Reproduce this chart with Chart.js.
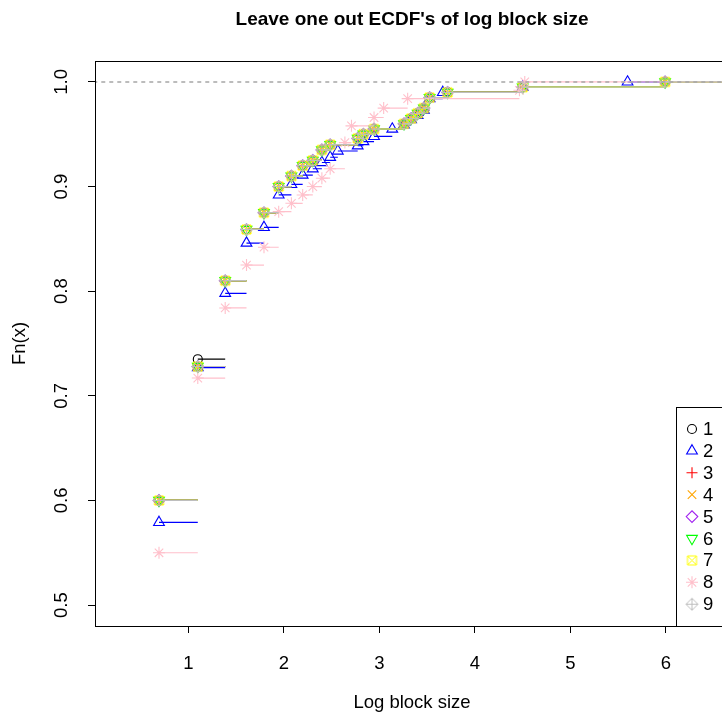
<!DOCTYPE html>
<html><head><meta charset="utf-8">
<script src="https://cdn.jsdelivr.net/npm/chart.js@4.4.0/dist/chart.umd.min.js"></script>
<style>
html,body{margin:0;padding:0;background:#fff;overflow:hidden;width:722px;height:715px}
#wrap{position:relative;width:740px;height:715px}
</style>
</head><body><div id="wrap"><canvas id="c" width="740" height="715"></canvas></div>
<script>
// ---------- data ----------
const seriesLabels = ['1','2','3','4','5','6','7','8','9'];
const seriesColors = ['#000000','#0000FF','#FF0000','#FFA500','#A020F0','#00FF00','#FFFF00','#FFC0CB','#BEBEBE'];
const xTickValues = [1, 2, 3, 4, 5, 6];
const yTickValues = [0.5, 0.6, 0.7, 0.8, 0.9, 1.0];

// knots (log block size) and Fn(x) of each leave-one-out ECDF
const logSizeMain = [0.693, 1.099, 1.386, 1.609, 1.792, 1.946, 2.079, 2.197, 2.303, 2.398, 2.485, 2.773, 2.833, 2.944, 3.258, 3.332, 3.401, 3.466, 3.526, 3.714, 4.500, 5.991];
const fn1 = [0.600, 0.735, 0.810, 0.859, 0.875, 0.900, 0.910, 0.920, 0.925, 0.935, 0.940, 0.946, 0.950, 0.955, 0.960, 0.965, 0.970, 0.975, 0.985, 0.990, 0.995, 1.000];
const fnMain = [0.600, 0.728, 0.810, 0.859, 0.875, 0.900, 0.910, 0.920, 0.925, 0.935, 0.940, 0.946, 0.950, 0.955, 0.960, 0.965, 0.970, 0.975, 0.985, 0.990, 0.995, 1.000];
const logSize2 = [0.693, 1.099, 1.386, 1.609, 1.792, 1.946, 2.079, 2.197, 2.303, 2.398, 2.485, 2.565, 2.773, 2.833, 2.944, 3.135, 3.258, 3.332, 3.401, 3.466, 3.526, 3.664, 4.500, 5.598];
const fn2 = [0.579, 0.727, 0.798, 0.846, 0.861, 0.892, 0.902, 0.911, 0.917, 0.923, 0.928, 0.934, 0.939, 0.943, 0.948, 0.955, 0.959, 0.964, 0.968, 0.973, 0.984, 0.990, 0.995, 1.000];
const logSize8 = [0.693, 1.099, 1.386, 1.609, 1.792, 1.946, 2.079, 2.197, 2.303, 2.398, 2.485, 2.639, 2.708, 2.944, 3.045, 3.296, 4.466, 4.522];
const fn8 = [0.550, 0.717, 0.784, 0.825, 0.842, 0.876, 0.884, 0.892, 0.900, 0.908, 0.917, 0.942, 0.958, 0.966, 0.975, 0.984, 0.992, 1.000];

const seriesX = [logSizeMain, logSize2, logSizeMain, logSizeMain, logSizeMain, logSizeMain, logSizeMain, logSize8, logSizeMain];
const seriesY = [fn1, fn2, fnMain, fnMain, fnMain, fnMain, fnMain, fn8, fnMain];

// ---------- symbols (R pch 1..9) ----------
function imgSymbol(kind, color){
  const c = document.createElement('canvas'); c.width = 15; c.height = 15;
  const g = c.getContext('2d'); g.strokeStyle = color; g.lineWidth = 1;
  g.beginPath();
  if (kind === 'squareX') {
    g.rect(3, 3, 9, 9);
    g.moveTo(3, 3); g.lineTo(12, 12); g.moveTo(12, 3); g.lineTo(3, 12);
  } else {
    g.moveTo(7.5, 1.5); g.lineTo(13.5, 7.5); g.lineTo(7.5, 13.5); g.lineTo(1.5, 7.5); g.closePath();
    g.moveTo(7.5, 1.5); g.lineTo(7.5, 13.5); g.moveTo(1.5, 7.5); g.lineTo(13.5, 7.5);
  }
  g.stroke();
  return c;
}
const symbols = [
  {style:'circle', radius:4.5, rotation:0},
  {style:'triangle', radius:6.2, rotation:0},
  {style:'cross', radius:5.5, rotation:0},
  {style:'crossRot', radius:6, rotation:0},
  {style:'rectRot', radius:5.8, rotation:0},
  {style:'triangle', radius:6.2, rotation:180},
  {style:imgSymbol('squareX', seriesColors[6]), radius:6, rotation:0},
  {style:'star', radius:6, rotation:0},
  {style:imgSymbol('diamondPlus', seriesColors[8]), radius:6, rotation:0}
];

// ---------- datasets ----------
const XRIGHT = 8;
const datasets = [];
for (let k = 0; k < 9; k++) {
  const xs = seriesX[k], ys = seriesY[k];
  const seg = [];
  for (let i = 0; i < xs.length; i++) {
    const xe = i + 1 < xs.length ? xs[i + 1] : XRIGHT;
    seg.push({x: xs[i], y: ys[i]}, {x: xe, y: ys[i]}, {x: xe, y: null});
  }
  datasets.push({
    label: seriesLabels[k] + ' steps', data: seg, borderColor: seriesColors[k], borderWidth: 1.2,
    pointRadius: 0, spanGaps: false, fill: false, order: 2 * (9 - k) + 1
  });
  datasets.push({
    label: seriesLabels[k], data: xs.map((x, i) => ({x: x, y: ys[i]})), showLine: false,
    borderColor: seriesColors[k], backgroundColor: 'rgba(0,0,0,0)', pointBorderWidth: 1.1,
    pointStyle: symbols[k].style, pointRadius: symbols[k].radius, pointRotation: symbols[k].rotation,
    order: 2 * (9 - k)
  });
}
datasets.push({
  label: 'one', data: [{x: -1, y: 1}, {x: XRIGHT, y: 1}], borderColor: '#A6A6A6', borderWidth: 1.5,
  borderDash: [4, 4], pointRadius: 0, order: -1
});

const FONT = '"Liberation Sans", Arial, sans-serif';
const FS = 18.5;

const framePlugin = {
  id: 'frame',
  afterDraw(chart) {
    const ctx = chart.ctx, a = chart.chartArea;
    ctx.save();
    ctx.strokeStyle = '#000'; ctx.lineWidth = 1;
    ctx.strokeRect(Math.round(a.left) + 0.5, Math.round(a.top) + 0.5, Math.round(a.right - a.left), Math.round(a.bottom - a.top));
    // title
    ctx.fillStyle = '#000'; ctx.font = 'bold 19px ' + FONT; ctx.textAlign = 'center'; ctx.textBaseline = 'middle';
    ctx.fillText("Leave one out ECDF's of log block size", (a.left + a.right) / 2, 20);
    // legend
    const lx = 676, ly = 407;
    ctx.fillStyle = '#fff';
    ctx.fillRect(lx, ly, a.right - lx, a.bottom - ly);
    ctx.strokeRect(lx + 0.5, ly + 0.5, a.right - lx, Math.round(a.bottom) - ly);
    ctx.font = FS + 'px ' + FONT; ctx.textAlign = 'left';
    for (let k = 0; k < 9; k++) {
      const y = 429 + k * 21.9;
      ctx.strokeStyle = seriesColors[k]; ctx.fillStyle = 'rgba(0,0,0,0)'; ctx.lineWidth = 1.1;
      Chart.helpers.drawPoint(ctx, {pointStyle: symbols[k].style, radius: symbols[k].radius, rotation: symbols[k].rotation, borderWidth: 1.1}, 692, y);
      ctx.fillStyle = '#000';
      ctx.fillText(seriesLabels[k], 703, y + 1);
    }
    ctx.restore();
  }
};

new Chart(document.getElementById('c'), {
  type: 'line',
  data: {datasets},
  options: {
    responsive: false, animation: false, devicePixelRatio: 1, events: [],
    layout: {padding: {top: 61, right: 11, left: 0, bottom: 0}},
    plugins: {legend: {display: false}, tooltip: {enabled: false}, title: {display: false}},
    scales: {
      x: {
        type: 'linear', min: 0.023, max: 6.66,
        afterBuildTicks: s => { s.ticks = xTickValues.map(v => ({value: v})); },
        afterFit: s => { s.height = 89; },
        grid: {drawOnChartArea: false, drawTicks: true, tickLength: 7, color: '#000', lineWidth: 1},
        border: {display: false},
        ticks: {color: '#000', font: {family: FONT, size: FS}, padding: 20, maxRotation: 0, minRotation: 0, autoSkip: false},
        title: {display: true, text: 'Log block size', color: '#000', font: {family: FONT, size: FS}, padding: {top: 0, bottom: 1}}
      },
      y: {
        type: 'linear', min: 0.48, max: 1.02,
        afterBuildTicks: s => { s.ticks = yTickValues.map(v => ({value: v})); },
        afterFit: s => { s.width = 95; },
        grid: {drawOnChartArea: false, drawTicks: true, tickLength: 7, color: '#000', lineWidth: 1},
        border: {display: false},
        ticks: {color: '#000', font: {family: FONT, size: FS}, padding: 13, minRotation: 90, maxRotation: 90,
                crossAlign: 'center', autoSkip: false, callback: v => v.toFixed(1)},
        title: {display: true, text: 'Fn(x)', color: '#000', font: {family: FONT, size: FS}, padding: {top: 9, bottom: 0}}
      }
    }
  },
  plugins: [framePlugin]
});
</script>
</body></html>
